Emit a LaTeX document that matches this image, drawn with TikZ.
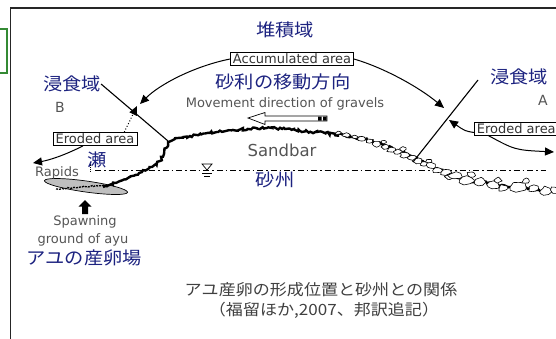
\documentclass[tikz,border=0pt]{standalone}
\usepackage{fontspec}
\setmainfont{DejaVu Sans}
\newfontfamily\jp[FakeStretch=1.1]{Noto Sans CJK JP}
\usetikzlibrary{arrows.meta,decorations.pathmorphing}

\definecolor{navy}{RGB}{28,34,128}
\definecolor{labelgray}{RGB}{85,85,85}
\definecolor{framegreen}{RGB}{52,138,52}

\begin{document}
\begin{tikzpicture}[x=1pt,y=-1pt,
  jlabel/.style={font=\jp\fontsize{17.5}{18}\selectfont, text=navy, inner sep=0pt},
  elabel/.style={font=\fontsize{13}{14}\selectfont, text=labelgray, inner sep=0pt},
  tagbox/.style={draw=black, line width=0.7pt, fill=white,
    font=\fontsize{13}{14}\selectfont, text=black!80, inner xsep=2.5pt, inner ysep=1.5pt},
  pointer/.style={line width=1pt, -{Triangle[length=9pt,width=8pt]}},
  lead/.style={line width=1.1pt},
  gravel/.style={line width=2.4pt, decorate,
    decoration={random steps, segment length=2pt, amplitude=1.3pt}},
  pebble/.style={draw=black, fill=white, line width=0.6pt, line join=round}]

\pgfmathsetseed{17}
\useasboundingbox (0,0) rectangle (556,338);
\fill[white] (0,0) rectangle (556,338);
\clip (0,0) rectangle (556,338);

% outer frame and the neighbouring green box
\draw[line width=1.8pt, black!85] (10.5,345) -- (10.5,8) -- (565,8);
\draw[framegreen, line width=1.5pt] (-5,29) rectangle (7,73);

% water level (dash-dot) and its symbol
\draw[line width=0.8pt, dash pattern=on 6pt off 3pt on 1.5pt off 3pt] (95,170) -- (546,170);
\draw[line width=0.7pt, densely dotted] (90,162) -- (90,172);
\draw[line width=0.7pt] (202,164) -- (212,164) -- (207,170) -- cycle;
\draw[line width=0.7pt] (202,173.5) -- (212,173.5) (204,176.5) -- (210,176.5);

% spawning ground
\draw[fill=black!25, line width=0.7pt, rotate around={-8:(86,186.5)}] (86,186.5) ellipse [x radius=42, y radius=5.5];
\draw[line width=1.3pt, dash pattern=on 2pt off 1pt, decorate,
  decoration={random steps, segment length=2pt, amplitude=0.6pt}] (56,189) -- (104,185);

% river bed profile: gravel chain
\draw[gravel] (103,187) -- (116,183) -- (130,177) -- (142,172) -- (152,167) -- (160,161)
  -- (164,154) -- (166,148) -- (168,142) -- (178,138) -- (190,136) -- (205,133.5)
  -- (217,132) -- (240,129.5) -- (267,128) -- (285,129) -- (300,131) -- (325,133)
  -- (350,136) -- (367,140) -- (383,145) -- (398,151) -- (413,157) -- (427,164)
  -- (440,170) -- (452,175) -- (463,180) -- (475,182) -- (487,183) -- (498,185)
  -- (510,187) -- (530,188) -- (543,192) -- (556,190);
% loose pebbles on the downstream slope
\foreach \px/\py/\rx/\ry in {
  338/133/3/2, 346/135/4/2.5, 355/137/3.5/2, 362/139/4.5/2.5, 370/141/4/2.5,
  377/144/5/3, 384/142/3.5/2, 385/147/4/2.5, 391/150/5/3, 398/152/4.5/3,
  403/149/3.5/2.5, 405/155/5.5/3, 412/158/5/3, 418/161/5.5/3.5, 424/164/5/3,
  429/161/4/2.5, 431/166/6/3.5, 438/170/5.5/3.5, 446/172/6/3.5, 449/177/5/3,
  455/176/7/4, 466/180/9/5, 471/175/5/3, 480/182/8/4.5, 493/185/7/4,
  498/180/4/3, 503/188/6/4, 519/187/10/5.5, 526/181/5/3, 533/189/6/4,
  545/191/7/5, 554/190/4/4}
  \draw[pebble] plot[variable=\t, domain=0:308, samples=8]
    ({\px+\rx*(0.6+0.5*rnd)*cos(\t+20*rnd)}, {\py+\ry*(0.6+0.5*rnd)*sin(\t+20*rnd)}) -- cycle;

% labels
\node[jlabel] (accJ) at (285,30) {堆積域};
\node[tagbox] (acc) at (292,59) {Accumulated area};
\node[jlabel] (movJ) at (283,82) {砂利の移動方向};
\node[elabel] (movE) at (285,104) {Movement direction of gravels};
\node[jlabel] (erLJ) at (72,84) {浸食域};
\node[elabel, font=\fontsize{14}{15}\selectfont] (B) at (60,107) {B};
\node[tagbox] (erL) at (95,139) {Eroded area};
\node[jlabel] (seJ) at (97,160) {瀬};
\node[elabel] (rap) at (57,173) {Rapids};
\node[elabel] (spw1) at (85,222) {Spawning};
\node[elabel] (spw2) at (83,240) {ground of ayu};
\node[jlabel] (spwJ) at (84,258) {アユの産卵場};
\node[jlabel] (erRJ) at (519,77) {浸食域};
\node[elabel, font=\fontsize{14}{15}\selectfont] (A) at (543,100) {A};
\node[tagbox, anchor=west] (erR) at (474,128.5) {Eroded area};
\node[elabel, font=\fontsize{16.5}{17}\selectfont] (sand) at (282,150) {Sandbar};
\node[jlabel] (sandJ) at (275,180) {砂州};
\node[jlabel, text=black!75, font=\jp\fontsize{15.5}{16}\selectfont] (title) at (321,290) {アユ産卵の形成位置と砂州との関係};
\node[jlabel, text=black!75, font=\jp\fontsize{15.5}{16}\selectfont] (cite) at (324,310) {（福留ほか,2007、邦訳追記）};

% movement direction (hollow arrow)
\draw[line width=0.7pt, fill=white] (248,118) -- (265,112.5) -- (265,116) -- (327,116)
  -- (327,121) -- (265,121) -- (265,124.5) -- cycle;
\fill (318,116.5) rectangle (321.5,120.5) (323,116.5) rectangle (326.5,120.5);

% spawning pointer
\fill (85,200) -- (91.5,206.5) -- (88,206.5) -- (88,214) -- (82,214) -- (82,206.5) -- (78.5,206.5) -- cycle;

% points on the profile
\coordinate (cornerL) at (168,141);
\coordinate (cornerR) at (413,162);
\coordinate (leadR) at (478,80);
\coordinate (tipAL) at (140,104);
\coordinate (tipAR) at (444,108);
\coordinate (tipB) at (137,106);
\coordinate (tipRap) at (33,163);
\coordinate (tipER) at (449,120);
\coordinate (tipA) at (554,152);

% erosion boundaries
\draw[lead] (erLJ.east) -- (cornerL);
\draw[lead] (leadR) -- (cornerR);

% arrows
\draw[pointer] (acc.west) .. controls (195,66) and (160,84) .. (tipAL);
\draw[pointer] (acc.east) .. controls (385,68) and (420,88) .. (tipAR);
\draw[pointer, dotted] ([xshift=-13pt]erL.north east) -- (tipB);
\draw[pointer] ([xshift=-12pt]erL.south) .. controls (65,155) and (50,160) .. (tipRap);
\draw[pointer] ([yshift=-4pt]erR.west) .. controls (465,131) .. (tipER);
\draw[pointer] ([xshift=14pt]erR.south west) .. controls (515,150) .. (tipA);
\end{tikzpicture}
\end{document}
